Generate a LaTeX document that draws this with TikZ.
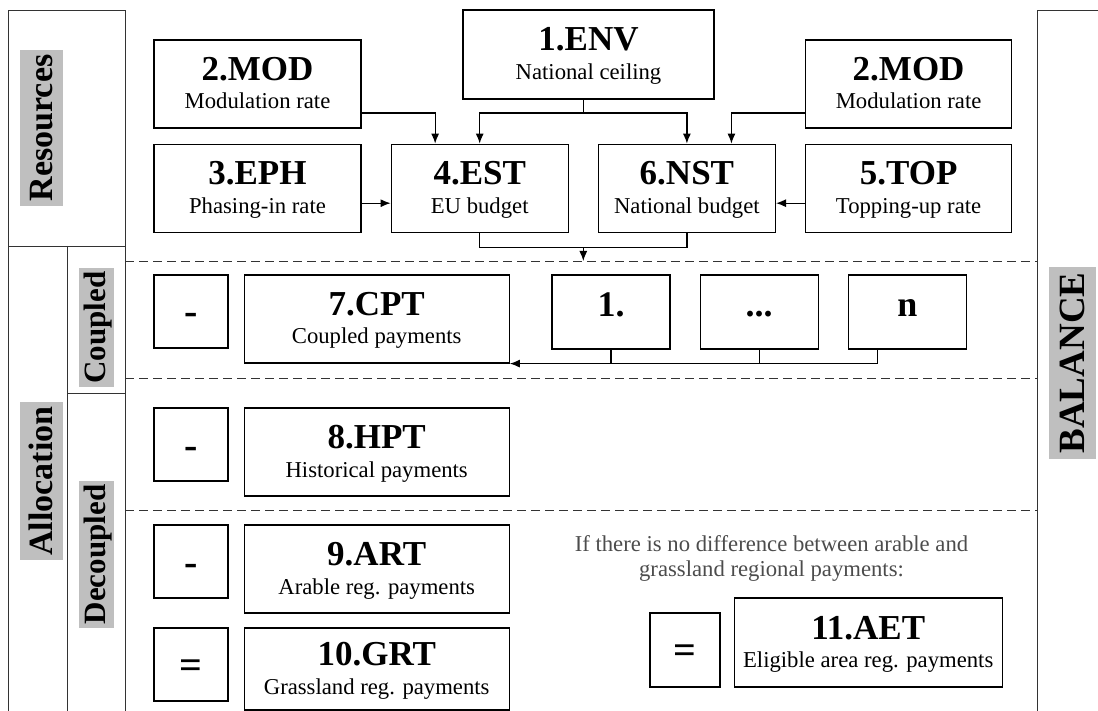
\documentclass[tikz,border=0pt]{standalone}
\usepackage{fontspec}
\setmainfont{Liberation Serif}
\usetikzlibrary{positioning,arrows.meta,calc}

\newcommand{\ttl}[1]{{\fontsize{35}{28.5}\selectfont\bfseries #1}}

\begin{document}
\begin{tikzpicture}[x=1pt,y=-1pt,
  every node/.style={font=\fontsize{22.7}{28.5}\selectfont},
  unit/.style={rectangle, draw, line width=1.2pt, inner sep=0pt, align=center,
    minimum width=#1, minimum height=88pt, text height=50pt, text depth=0pt},
  sign/.style={rectangle, draw, line width=1.2pt, inner sep=0pt, text height=27pt, text depth=0pt,
    minimum width=74pt, minimum height=73pt, font=\fontsize{40}{40}\selectfont\bfseries},
  part/.style={rectangle, draw, line width=1.2pt, inner sep=0pt,
    minimum width=118pt, minimum height=74pt, text height=10pt, text depth=0pt,
    font=\fontsize{36}{36}\selectfont\bfseries},
  lbl/.style={rotate=90, fill=black!25, inner ysep=0pt},
  frame/.style={line width=0.9pt, black!80},
  sep/.style={line width=0.8pt, black!80, dash pattern=on 9pt off 5pt},
  line/.style={line width=1.2pt},
  link/.style={line width=1.2pt, -{Latex[length=10pt,width=8pt]}}]

\useasboundingbox (0,0) rectangle (1098,711);

%% Frame
\draw[frame] (8,10) rectangle (125,246);
\draw[frame] (8,246) -- (8,711) (67,246) -- (67,711) (125,246) -- (125,711)
  (67,393) -- (125,393);
\draw[frame] (1098,10) -- (1037,10) -- (1037,711);
\draw[sep] (125,261) -- (1037,261);
\draw[sep] (125,378) -- (1037,378);
\draw[sep] (125,510) -- (1037,510);

\node[lbl, inner xsep=4.3pt, text height=32pt, text depth=11pt,
  font=\fontsize{34}{34}\selectfont\bfseries] (resources) at (41.5,128) {Resources};
\node[lbl, inner xsep=4.3pt, text height=32pt, text depth=11pt,
  font=\fontsize{34}{34}\selectfont\bfseries] (allocation) at (41.5,481) {Allocation};
\node[lbl, inner xsep=3.5pt, text height=26pt, text depth=9pt,
  font=\fontsize{31}{31}\selectfont\bfseries] (coupled) at (96.5,327.5) {Coupled};
\node[lbl, inner xsep=3.5pt, text height=26pt, text depth=9pt,
  font=\fontsize{31}{31}\selectfont\bfseries] (decoupled) at (96.5,554.5) {Decoupled};
\node[lbl, inner xsep=5.5pt, text height=35pt, text depth=12pt,
  font=\fontsize{37}{37}\selectfont\bfseries] (balance) at (1072.5,363) {BALANCE};

%% Nodes definition
\node[unit=251pt, minimum height=89pt] (env) at (588.5,54.5) {\ttl{1.ENV}\\National ceiling};
\node[unit=207pt] (modL) at (257.5,84) {\ttl{2.MOD}\\Modulation rate};
\node[unit=207pt, below=15pt of modL] (eph) {\ttl{3.EPH}\\Phasing-in rate};
\node[unit=177pt, right=29pt of eph] (est) {\ttl{4.EST}\\EU budget};
\node[unit=177pt, right=29pt of est] (nst) {\ttl{6.NST}\\National budget};
\node[unit=206pt, right=29pt of nst] (top) {\ttl{5.TOP}\\Topping-up rate};
\node[unit=206pt, above=15pt of top] (modR) {\ttl{2.MOD}\\Modulation rate};

\node[sign] (minus1) at (191,311.5) {-};
\node[unit=265pt, right=15pt of minus1.north east, anchor=north west] (cpt)
  {\ttl{7.CPT}\\Coupled payments};
\node[part] (c1) at (611,312) {1.};
\node[part, right=29pt of c1] (cdots) {...};
\node[part, right=29pt of cdots] (cn) {n};

\node[sign] (minus2) at (191,444.5) {-};
\node[unit=265pt, right=15pt of minus2.north east, anchor=north west] (hpt)
  {\ttl{8.HPT}\\Historical payments};
\node[sign] (minus3) at (191,561.5) {-};
\node[unit=265pt, right=15pt of minus3.north east, anchor=north west] (art)
  {\ttl{9.ART}\\Arable reg. payments};
\node[sign] (eq1) at (191,664.5) {=};
\node[unit=265pt, minimum height=82pt, right=15pt of eq1.north east, anchor=north west] (grt)
  {\ttl{10.GRT}\\Grassland reg. payments};

\node[align=center, text=black!70, font=\fontsize{22.7}{25}\selectfont] (note) at (771.5,558)
  {If there is no difference between arable and\\grassland regional payments:};
\node[sign, minimum width=70pt, minimum height=74pt] (eq2) at (685,650) {=};
\node[unit=268pt, minimum height=89pt, right=13pt of eq2.south east, anchor=south west] (aet)
  {\ttl{11.AET}\\Eligible area reg. payments};

%% Edges definition
\coordinate (bar) at (0,113);
\coordinate (mid) at ($(est.south)!0.5!(nst.south)$);
\draw[link] (env.south -| mid) -- (mid |- bar) -| (est.north);
\draw[link] (env.south -| mid) -- (mid |- bar) -| (nst.north);
\draw[link] (modL.east |- bar) -| ($(est.north west)!0.25!(est.north east)$);
\draw[link] (modR.west |- bar) -| ($(nst.north west)!0.75!(nst.north east)$);
\draw[link] ([yshift=-15pt]eph.east) -- ([yshift=-15pt]est.west);
\draw[link] ([yshift=-15pt]top.west) -- ([yshift=-15pt]nst.east);
\draw[line] (est.south) -- ++(0,15) -| (nst.south);
\draw[link] ($(mid)+(0,15)$) -- (mid |- 0,261);

\draw[link] ($(cn.south west)!0.25!(cn.south east)$) |- (cpt.south east);
\draw[line] (c1.south) -- (c1.south |- cpt.south);
\draw[line] (cdots.south) -- (cdots.south |- cpt.south);
\end{tikzpicture}
\end{document}
